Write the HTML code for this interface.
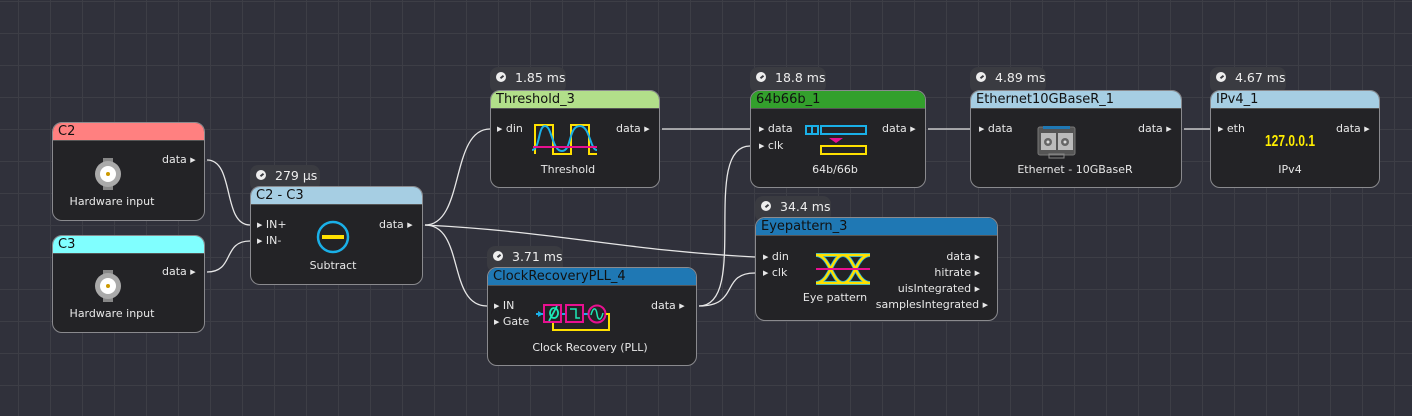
<!DOCTYPE html>
<html><head><meta charset="utf-8"><style>
*{margin:0;padding:0;box-sizing:border-box}
body{width:1412px;height:416px;overflow:hidden;background:#30313b;font-family:"DejaVu Sans","Liberation Sans",sans-serif;position:relative;
background-image:linear-gradient(#3d3e46 1px,transparent 1px),linear-gradient(90deg,#3d3e46 1px,transparent 1px);background-size:32px 32px;background-position:18px 1px}
.badge{position:absolute;height:26px;background:#3a3b41;border-radius:8px;color:#eee;font-size:12.5px;padding:3px 0 0 25px;white-space:nowrap}
.badge:before{content:"";position:absolute;left:6px;top:5px;width:10px;height:10px;border-radius:50%;background:#eee}
.badge:after{content:"";position:absolute;left:10px;top:9px;width:4px;height:2px;background:#3a3b41;transform:rotate(-40deg)}
.node{position:absolute;background:#232326;border:1.5px solid #8a8a8e;border-radius:10px;overflow:hidden}
.hd{height:18px;color:#111;font-size:13px;line-height:18px;padding-left:5px;border-bottom:1px solid #555}
.lbl{position:absolute;color:#e8e8e8;font-size:11px;white-space:nowrap;line-height:12px}
.lbl i{font-style:normal;font-size:7px;vertical-align:1px}
.cap{position:absolute;color:#e8e8e8;font-size:11px;white-space:nowrap;text-align:center;transform:translateX(-50%)}
svg{position:absolute;left:0;top:0}
</style></head><body>

<div class="badge" style="left:250px;top:165px;width:70px">279 µs</div>
<div class="badge" style="left:490px;top:67px;width:76px">1.85 ms</div>
<div class="badge" style="left:750px;top:67px;width:76px">18.8 ms</div>
<div class="badge" style="left:970px;top:67px;width:76px">4.89 ms</div>
<div class="badge" style="left:1210px;top:67px;width:76px">4.67 ms</div>
<div class="badge" style="left:755px;top:196px;width:76px">34.4 ms</div>
<div class="badge" style="left:487px;top:246px;width:76px">3.71 ms</div>

<div class="node" style="left:52px;top:122px;width:153px;height:99px"><div class="hd" style="background:#ff8080">C2</div></div>
<div class="node" style="left:52px;top:235px;width:153px;height:98px"><div class="hd" style="background:#80ffff">C3</div></div>
<div class="node" style="left:250px;top:186px;width:173px;height:99px"><div class="hd" style="background:#a6cee3">C2 - C3</div></div>
<div class="node" style="left:490px;top:90px;width:170px;height:98px"><div class="hd" style="background:#b2df8a">Threshold_3</div></div>
<div class="node" style="left:750px;top:90px;width:176px;height:98px"><div class="hd" style="background:#33a02c">64b66b_1</div></div>
<div class="node" style="left:970px;top:90px;width:212px;height:98px"><div class="hd" style="background:#a6cee3">Ethernet10GBaseR_1</div></div>
<div class="node" style="left:1210px;top:90px;width:170px;height:98px"><div class="hd" style="background:#a6cee3">IPv4_1</div></div>
<div class="node" style="left:755px;top:217px;width:243px;height:104px"><div class="hd" style="background:#1f78b4">Eyepattern_3</div></div>
<div class="node" style="left:487px;top:267px;width:210px;height:99px"><div class="hd" style="background:#1f78b4">ClockRecoveryPLL_4</div></div>

<svg width="1412" height="416" viewBox="0 0 1412 416">
<g fill="none" stroke="#e6e6e6" stroke-width="1.3">
<path d="M207 160 C235 160 222 225 250 225"/>
<path d="M207 272 C235 272 222 241 250 241"/>
<path d="M425 225 C465 225 450 129 490 129"/>
<path d="M425 225 C560 232 620 250 755 257"/>
<path d="M425 225 C465 225 447 306 487 306"/>
<path d="M662 129 L750 129"/>
<path d="M699 306 C750 306 700 146 750 146"/>
<path d="M699 306 C740 306 720 273 755 273"/>
<path d="M928 129 L970 129"/>
<path d="M1184 129 L1210 129"/>
</g>
<g>
<rect x="103" y="158" width="10" height="32" fill="#888"/><circle cx="108" cy="174" r="13" fill="#aaa"/><circle cx="108" cy="174" r="8" fill="#fff"/><circle cx="108" cy="174" r="2" fill="#c90"/>
<rect x="103" y="270" width="10" height="32" fill="#888"/><circle cx="108" cy="286" r="13" fill="#aaa"/><circle cx="108" cy="286" r="8" fill="#fff"/><circle cx="108" cy="286" r="2" fill="#c90"/>
</g>
<circle cx="333" cy="237" r="15" fill="none" stroke="#1ab0e8" stroke-width="2.5"/><rect x="322" y="235" width="22" height="4" fill="#ffe000"/>
<g fill="none" stroke-width="2">
<path d="M535 154 L535 125 L553 125 L553 154 L571 154 L571 125 L589 125 L589 154 L597 154" stroke="#ffe000"/>
<path d="M532 150 C540 150 538 126 545 126 C552 126 552 151 562 151 C572 151 568 126 580 126 C590 126 590 150 597 150" stroke="#1ab0e8"/>
<path d="M533 147 L597 147" stroke="#e81090"/>
</g>
<g fill="none" stroke-width="2">
<rect x="806" y="126" width="12" height="8" stroke="#1ab0e8"/><line x1="812" y1="126" x2="812" y2="134" stroke="#1ab0e8"/>
<rect x="821" y="126" width="45" height="8" stroke="#1ab0e8"/>
<rect x="821" y="146" width="45" height="8" stroke="#ffe000"/>
</g>
<polygon points="829,138 843,138 836,143" fill="#e81090"/>
<rect x="1038" y="127" width="37" height="28" rx="2" fill="#555" stroke="#777"/><rect x="1043" y="126" width="27" height="3" fill="#1f78b4"/>
<rect x="1041" y="133" width="15" height="17" fill="#bbb"/><rect x="1058" y="133" width="15" height="17" fill="#bbb"/>
<circle cx="1048" cy="142" r="4" fill="#666"/><circle cx="1065" cy="142" r="4" fill="#666"/>
<circle cx="1048" cy="142" r="1.5" fill="#ddd"/><circle cx="1065" cy="142" r="1.5" fill="#ddd"/>
<rect x="1049" y="154" width="15" height="4" fill="none" stroke="#888"/>
<text x="1290" y="146" fill="#ffee00" font-family="Liberation Sans" font-weight="bold" font-size="16" text-anchor="middle" textLength="50" lengthAdjust="spacingAndGlyphs">127.0.0.1</text>
<g fill="none">
<path d="M816 255 L870 255 M816 283 L870 283 M816 255 C830 255 832 283 843 283 C854 283 856 255 870 255 M816 283 C830 283 832 255 843 255 C854 255 856 283 870 283" stroke="#1ab0e8" stroke-width="4"/>
<path d="M816 255 L870 255 M816 283 L870 283 M816 255 C830 255 832 283 843 283 C854 283 856 255 870 255 M816 283 C830 283 832 255 843 255 C854 255 856 283 870 283" stroke="#ffe000" stroke-width="2.5"/>
</g>
<rect x="816" y="268" width="54" height="2" fill="#e81090"/>
<g fill="none">
<line x1="536" y1="314" x2="606" y2="314" stroke="#1ab0e8" stroke-width="2"/>
<polygon points="538,311 543,314 538,317" fill="#1ab0e8"/>
<rect x="544" y="305" width="17" height="17" fill="#232326" stroke="#e81090" stroke-width="2"/>
<rect x="566" y="305" width="17" height="17" fill="#232326" stroke="#e81090" stroke-width="2"/>
<circle cx="597" cy="314" r="8.5" fill="#232326" stroke="#e81090" stroke-width="2"/>
<path d="M554 308 A4 5 0 1 0 554.1 308 M549 321 L557 306" stroke="#1de9b6" stroke-width="1.8"/>
<path d="M570 309 L576 309 L576 318 L580 318" stroke="#1de9b6" stroke-width="1.5"/>
<path d="M591 315 C593 307 596 307 597 314 C598 321 601 321 603 313" stroke="#1de9b6" stroke-width="1.5"/>
<path d="M606 314 L609 314 L609 330 L553 330 L553 323" stroke="#ffe000" stroke-width="2"/>
</g>
</svg>

<div class="lbl" style="left:162px;top:154px">data <i>▶</i></div>
<div class="lbl" style="left:162px;top:266px">data <i>▶</i></div>
<div class="lbl" style="left:257px;top:219px"><i>▶</i> IN+</div>
<div class="lbl" style="left:257px;top:235px"><i>▶</i> IN-</div>
<div class="lbl" style="left:379px;top:219px">data <i>▶</i></div>
<div class="lbl" style="left:497px;top:123px"><i>▶</i> din</div>
<div class="lbl" style="left:616px;top:123px">data <i>▶</i></div>
<div class="lbl" style="left:759px;top:123px"><i>▶</i> data</div>
<div class="lbl" style="left:759px;top:140px"><i>▶</i> clk</div>
<div class="lbl" style="left:882px;top:123px">data <i>▶</i></div>
<div class="lbl" style="left:979px;top:123px"><i>▶</i> data</div>
<div class="lbl" style="left:1138px;top:123px">data <i>▶</i></div>
<div class="lbl" style="left:1218px;top:123px"><i>▶</i> eth</div>
<div class="lbl" style="left:1336px;top:123px">data <i>▶</i></div>
<div class="lbl" style="left:763px;top:251px"><i>▶</i> din</div>
<div class="lbl" style="left:763px;top:267px"><i>▶</i> clk</div>
<div class="lbl" style="right:432px;top:251px;text-align:right">data <i>▶</i></div>
<div class="lbl" style="right:432px;top:267px;text-align:right">hitrate <i>▶</i></div>
<div class="lbl" style="right:432px;top:283px;text-align:right">uisIntegrated <i>▶</i></div>
<div class="lbl" style="right:424px;top:299px;text-align:right">samplesIntegrated <i>▶</i></div>
<div class="lbl" style="left:494px;top:300px"><i>▶</i> IN</div>
<div class="lbl" style="left:494px;top:316px"><i>▶</i> Gate</div>
<div class="lbl" style="left:651px;top:300px">data <i>▶</i></div>

<div class="cap" style="left:112px;top:195px">Hardware input</div>
<div class="cap" style="left:112px;top:307px">Hardware input</div>
<div class="cap" style="left:333px;top:259px">Subtract</div>
<div class="cap" style="left:568px;top:163px">Threshold</div>
<div class="cap" style="left:835px;top:163px">64b/66b</div>
<div class="cap" style="left:1075px;top:163px">Ethernet - 10GBaseR</div>
<div class="cap" style="left:1290px;top:163px">IPv4</div>
<div class="cap" style="left:835px;top:291px">Eye pattern</div>
<div class="cap" style="left:590px;top:341px">Clock Recovery (PLL)</div>
</body></html>
